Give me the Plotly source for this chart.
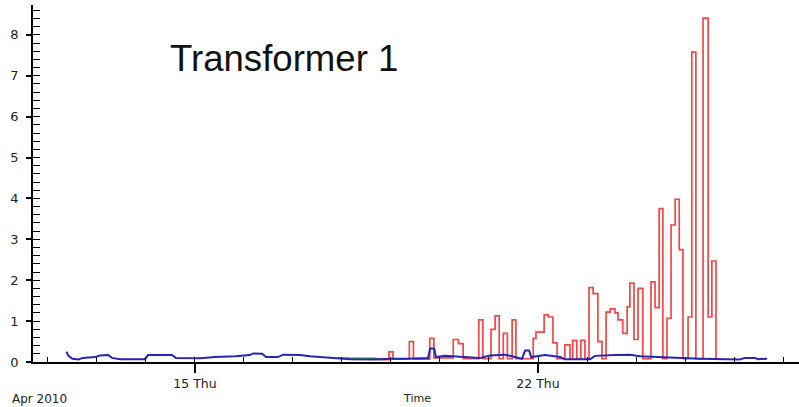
import plotly.graph_objects as go

# ---------------- data ----------------
red_times = [
    "2010-04-18 18:00", "2010-04-18 23:00", "2010-04-19 01:00", "2010-04-19 09:00",
    "2010-04-19 11:00", "2010-04-19 19:00", "2010-04-19 21:00", "2010-04-20 06:30",
    "2010-04-20 09:00", "2010-04-20 11:20", "2010-04-20 19:00", "2010-04-20 21:00",
    "2010-04-21 01:00", "2010-04-21 03:00", "2010-04-21 05:00", "2010-04-21 07:00",
    "2010-04-21 09:00", "2010-04-21 11:20", "2010-04-21 13:10", "2010-04-21 21:40",
    "2010-04-21 23:00", "2010-04-22 03:00", "2010-04-22 05:00", "2010-04-22 07:20",
    "2010-04-22 09:20", "2010-04-22 13:10", "2010-04-22 15:40", "2010-04-22 17:00",
    "2010-04-22 19:00", "2010-04-22 21:00", "2010-04-22 23:00", "2010-04-23 01:00",
    "2010-04-23 03:00", "2010-04-23 05:20", "2010-04-23 07:20", "2010-04-23 09:20",
    "2010-04-23 11:20", "2010-04-23 13:40", "2010-04-23 15:10", "2010-04-23 17:30",
    "2010-04-23 19:40", "2010-04-23 21:00", "2010-04-23 23:00", "2010-04-24 01:00",
    "2010-04-24 03:20", "2010-04-24 07:20", "2010-04-24 09:20", "2010-04-24 11:20",
    "2010-04-24 13:10", "2010-04-24 15:10", "2010-04-24 17:10", "2010-04-24 19:10",
    "2010-04-24 21:10", "2010-04-24 23:00", "2010-04-25 01:30", "2010-04-25 03:20",
    "2010-04-25 05:20", "2010-04-25 08:50", "2010-04-25 11:20", "2010-04-25 13:10",
    "2010-04-25 15:10", "2010-04-25 17:00",
]
red_values = [
    0.06, 0.25, 0.07, 0.50,
    0.07, 0.58, 0.10, 0.55,
    0.45, 0.08, 1.03, 0.08,
    0.80, 1.13, 0.08, 0.70,
    0.08, 1.03, 0.08, 0.58,
    0.73, 1.15, 1.10, 0.47,
    0.08, 0.42, 0.08, 0.53,
    0.08, 0.53, 0.08, 1.82,
    1.67, 0.50, 0.08, 1.22,
    1.30, 1.20, 1.03, 0.70,
    1.35, 1.93, 0.55, 1.80,
    0.08, 1.96, 1.33, 3.75,
    0.08, 1.07, 3.35, 3.98,
    2.75, 0.08, 1.10, 7.58,
    0.08, 8.41, 1.10, 2.47,
    0.08, 0.08,
]

green_times = ["2010-04-17 22:00", "2010-04-18 04:00", "2010-04-18 10:00",
               "2010-04-18 16:00", "2010-04-18 20:00"]
green_values = [0.10, 0.09, 0.09, 0.09, 0.07]

blue_times = [
    "2010-04-12 09:00", "2010-04-12 10:00", "2010-04-12 12:00", "2010-04-12 15:00",
    "2010-04-12 17:00", "2010-04-12 23:00", "2010-04-13 01:30", "2010-04-13 05:30",
    "2010-04-13 07:20", "2010-04-13 11:20", "2010-04-13 23:30", "2010-04-14 01:00",
    "2010-04-14 12:40", "2010-04-14 14:40", "2010-04-15 02:30", "2010-04-15 09:50",
    "2010-04-15 19:40", "2010-04-16 02:50", "2010-04-16 04:30", "2010-04-16 08:50",
    "2010-04-16 10:50", "2010-04-16 16:40", "2010-04-16 19:10", "2010-04-17 03:20",
    "2010-04-17 08:20", "2010-04-17 15:40", "2010-04-17 23:00", "2010-04-18 04:00",
    "2010-04-18 16:10", "2010-04-18 23:30", "2010-04-19 06:50", "2010-04-19 18:10",
    "2010-04-19 19:10", "2010-04-19 21:10", "2010-04-19 22:00", "2010-04-20 02:30",
    "2010-04-20 09:50", "2010-04-20 19:40", "2010-04-21 00:30", "2010-04-21 07:50",
    "2010-04-21 12:40", "2010-04-21 16:10", "2010-04-21 17:40", "2010-04-21 19:40",
    "2010-04-21 20:40", "2010-04-22 03:30", "2010-04-22 10:50", "2010-04-22 13:10",
    "2010-04-23 01:30", "2010-04-23 04:00", "2010-04-23 13:40", "2010-04-23 21:00",
    "2010-04-24 02:00", "2010-04-24 11:50", "2010-04-24 21:40", "2010-04-25 07:20",
    "2010-04-26 02:50", "2010-04-26 05:20", "2010-04-26 10:20", "2010-04-26 11:40",
    "2010-04-26 16:10",
]
blue_values = [
    0.25, 0.15, 0.08, 0.06,
    0.10, 0.12, 0.16, 0.17,
    0.10, 0.07, 0.07, 0.17,
    0.17, 0.10, 0.09, 0.12,
    0.14, 0.17, 0.21, 0.20,
    0.12, 0.12, 0.18, 0.17,
    0.14, 0.12, 0.10, 0.07,
    0.06, 0.08, 0.08, 0.10,
    0.33, 0.33, 0.12, 0.15,
    0.13, 0.10, 0.16, 0.18,
    0.12, 0.08, 0.28, 0.28,
    0.12, 0.17, 0.12, 0.07,
    0.07, 0.15, 0.17, 0.18,
    0.14, 0.12, 0.10, 0.08,
    0.06, 0.10, 0.10, 0.07,
    0.08,
]

title_text = "Transformer 1"
x_range = ["2010-04-11 16:40", "2010-04-27 07:50"]
y_range = [0, 8.73]

# ---------------- figure ----------------
fig = go.Figure()
fig.add_trace(go.Scatter(x=green_times, y=green_values, mode="lines",
                         line=dict(color="#3f8f3f", width=1.5), hoverinfo="skip"))
fig.add_trace(go.Scatter(x=red_times, y=red_values, mode="lines",
                         line=dict(color="#f04848", width=1.7, shape="hv")))
fig.add_trace(go.Scatter(x=blue_times, y=blue_values, mode="lines",
                         line=dict(color="#2626b4", width=2)))

fig.update_layout(
    width=799, height=407,
    margin=dict(l=33, r=0, t=5, b=45),
    paper_bgcolor="white", plot_bgcolor="white",
    showlegend=False,
    font=dict(family="DejaVu Sans, Verdana, sans-serif", size=12, color="#222"),
)
fig.update_xaxes(
    type="date", range=x_range, automargin=False,
    showline=True, linecolor="black", linewidth=1.5, showgrid=False, zeroline=False,
    ticks="outside", ticklen=9, tickwidth=1.5, tickcolor="black",
    tick0="2010-04-15", dtick=7 * 86400000, tickformat="%d %a",
    tickfont=dict(size=12.5, color="#222"),
    minor=dict(ticks="inside", ticklen=5, tickwidth=1.2, tickcolor="black",
               dtick=86400000, tick0="2010-04-12", showgrid=False),
)
fig.update_yaxes(
    range=y_range, automargin=False,
    showline=True, linecolor="black", linewidth=1.5, showgrid=False, zeroline=False,
    ticks="outside", ticklen=5, tickwidth=1.5, tickcolor="black",
    tick0=0, dtick=1, tickfont=dict(size=13, color="#222"),
    ticklabelstandoff=5,
    minor=dict(ticks="inside", ticklen=7, tickwidth=1.2, tickcolor="black",
               dtick=0.2, showgrid=False),
)

fig.add_annotation(text=title_text, xref="paper", yref="paper", x=(168 - 33) / 766, y=0.849,
                   xanchor="left", yanchor="middle", showarrow=False,
                   font=dict(family="Liberation Sans, Arial, sans-serif", size=36.6, color="#111"))
fig.add_annotation(text="Apr 2010", xref="paper", yref="paper", x=(10 - 33) / 766, y=0,
                   xanchor="left", yanchor="middle", yshift=-37, showarrow=False,
                   font=dict(size=12, color="#222"))
fig.add_annotation(text="Time", xref="paper", yref="paper", x=(417 - 33) / 766, y=0,
                   xanchor="center", yanchor="middle", yshift=-36, showarrow=False,
                   font=dict(size=11, color="#222"))

fig.write_html("out.html", config={"displayModeBar": False},
               post_script="document.body.style.margin='0';document.body.style.overflow='hidden';")
